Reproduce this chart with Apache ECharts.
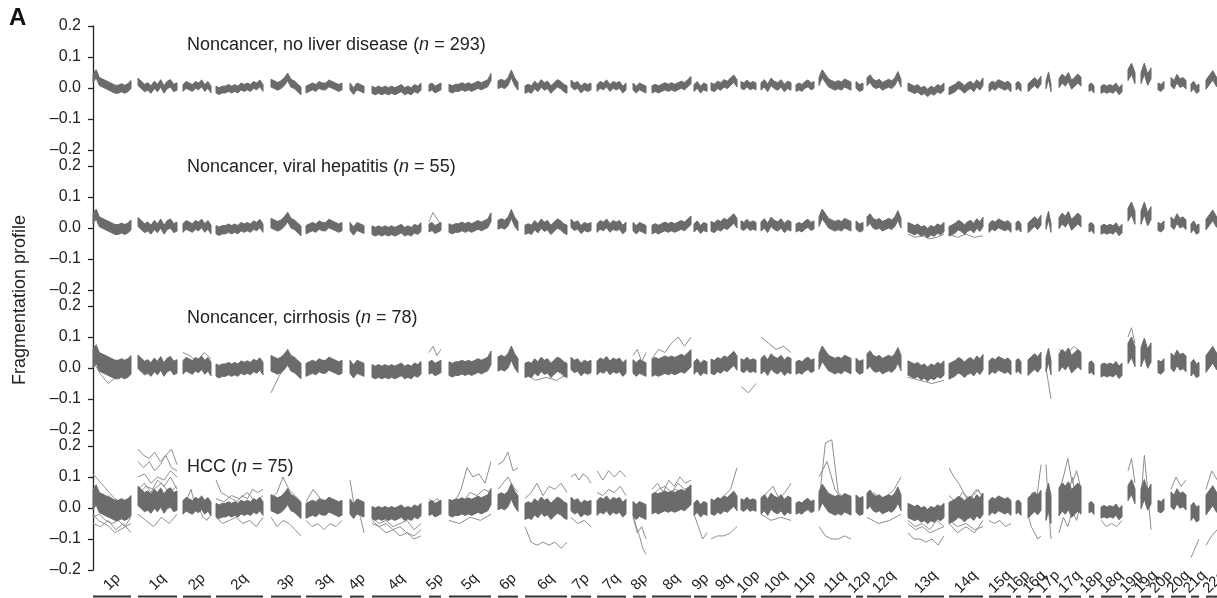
<!DOCTYPE html>
<html>
<head>
<meta charset="utf-8">
<script src="https://cdn.jsdelivr.net/npm/echarts@6/dist/echarts.min.js"></script>
<style>
  html, body { margin: 0; padding: 0; background: #fff; }
  #chart { width: 1217px; height: 598px; }
</style>
</head>
<body>
<div id="chart"></div>
<script>
// Chromosome arms along the genome track (track units, left to right)
const arms = ['1p','1q','2p','2q','3p','3q','4p','4q','5p','5q','6p','6q','7p','7q','8p','8q','9p','9q','10p','10q',
  '11p','11q','12p','12q','13q','14q','15q','16p','16q','17p','17q','18p','18q','19p','19q','20p','20q','21q','22q'];
const armStart = [0,45,90,123,178,213,257,279,336,356,405,432,478,504,540,559,601,618,648,668,
  703,726,763,774,815,856,896,923,935,953,966,996,1008,1035,1048,1065,1078,1098,1113];
const armEnd = [38,84,118,170,208,249,271,328,348,398,425,474,498,533,553,598,614,644,663,698,
  721,758,770,808,851,890,918,928,948,958,988,1001,1029,1042,1058,1071,1093,1106,1130];

// Typical fragmentation profile along each arm (evenly spaced bins)
const medianProfile = [
  [0.03,0.045,0.02,0.015,0.01,0.005,0.0,-0.005,-0.005,0.0,-0.005,0.0,0.01],
  [0.02,0.01,0.0,0.005,-0.005,0.01,0.0,0.015,-0.005,0.01,0.015,0.0,0.005],
  [0.0,0.01,0.005,0.0,0.01,0.005,0.015,0.0,0.01,-0.005],
  [-0.005,-0.01,-0.005,-0.005,0.0,-0.005,0.0,-0.005,0.005,0.0,0.005,0.0,0.01,0.005,0.015,0.0],
  [0.015,0.01,0.005,0.01,0.02,0.035,0.015,0.01,0.0,-0.01],
  [-0.005,0.0,0.005,0.0,0.01,0.005,0.005,0.015,0.01,0.005,0.0,0.005],
  [0.005,-0.01,0.005,0.0,-0.005],
  [-0.005,-0.01,-0.005,-0.01,-0.005,-0.01,-0.005,-0.01,-0.005,0.0,-0.01,-0.005,-0.01,0.0,-0.005,0.005],
  [0.0,0.005,-0.005,0.0,0.005],
  [0.0,-0.005,0.0,0.0,0.005,0.0,0.005,0.0,0.005,0.01,0.005,0.01,0.015,0.035],
  [0.01,0.015,0.01,0.02,0.045,0.02,0.005],
  [-0.005,0.0,-0.005,0.01,0.0,0.015,0.005,0.01,-0.005,0.005,0.015,0.01,0.0,-0.005],
  [0.015,0.005,0.01,-0.005,0.005,0.0,0.005],
  [0.0,0.01,0.005,0.015,0.0,0.01,0.005,0.01,-0.005,0.005],
  [0.005,-0.005,0.005,0.0,-0.005],
  [-0.005,0.0,-0.005,0.0,0.005,0.0,0.005,0.0,0.005,0.01,0.005,0.015,0.025],
  [0.0,0.01,-0.005,0.005,0.0],
  [0.005,0.0,0.01,0.005,0.015,0.01,0.02,0.03,0.015],
  [0.01,0.005,0.015,0.005,0.01,0.005],
  [0.005,0.015,0.0,0.02,0.01,0.005,0.015,0.0,0.01,0.005],
  [0.0,0.005,0.0,0.01,0.015,0.005,0.01],
  [0.02,0.045,0.03,0.015,0.01,0.005,0.01,0.005,0.015,0.01,0.005],
  [0.01,0.0,0.005],
  [0.02,0.03,0.015,0.01,0.015,0.005,0.01,0.015,0.01,0.02,0.04,0.015],
  [0.005,0.0,-0.005,0.0,-0.01,-0.005,-0.015,-0.005,-0.01,0.0,-0.005,0.005],
  [-0.01,-0.005,0.0,0.01,0.005,-0.005,0.005,0.01,0.0,0.015,0.005,0.02],
  [0.0,0.01,0.005,0.015,0.01,0.005,0.01,0.0],
  [0.005,0.01,0.0],
  [0.0,0.01,0.02,0.01,0.025],
  [0.01,0.04,0.0],
  [0.015,0.03,0.02,0.035,0.01,0.02,0.03,0.02],
  [0.0,0.005,-0.005],
  [-0.005,0.0,-0.005,0.0,-0.005,0.005,-0.01,0.0],
  [0.04,0.06,0.03],
  [0.03,0.06,0.025,0.045],
  [0.005,0.0,0.01],
  [0.02,0.01,0.03,0.015,0.02,0.01],
  [0.0,0.01,-0.005,0.0],
  [0.01,0.025,0.04,0.02,0.01,0.02]
];

// Spread of the sample cloud around the profile, per arm: [below, above]
const bandNoLiver = [
  [-0.012,0.014],[-0.012,0.012],[-0.011,0.011],[-0.011,0.011],[-0.012,0.013],[-0.011,0.011],[-0.011,0.011],[-0.012,0.011],
  [-0.011,0.011],[-0.011,0.012],[-0.012,0.013],[-0.012,0.012],[-0.011,0.011],[-0.011,0.011],[-0.011,0.011],[-0.011,0.012],
  [-0.011,0.011],[-0.012,0.012],[-0.011,0.011],[-0.012,0.012],[-0.011,0.011],[-0.012,0.014],[-0.011,0.011],[-0.012,0.013],
  [-0.013,0.011],[-0.012,0.012],[-0.012,0.012],[-0.011,0.011],[-0.012,0.013],[-0.012,0.012],[-0.014,0.015],[-0.011,0.011],
  [-0.012,0.011],[-0.016,0.02],[-0.016,0.02],[-0.011,0.011],[-0.013,0.014],[-0.012,0.012],[-0.014,0.016]
];
const bandViral = [
  [-0.016,0.016],[-0.015,0.014],[-0.014,0.014],[-0.014,0.013],[-0.015,0.016],[-0.014,0.013],[-0.013,0.013],[-0.016,0.012],
  [-0.013,0.013],[-0.014,0.014],[-0.014,0.015],[-0.016,0.014],[-0.013,0.013],[-0.014,0.014],[-0.014,0.013],[-0.014,0.014],
  [-0.013,0.013],[-0.015,0.016],[-0.013,0.013],[-0.015,0.015],[-0.013,0.013],[-0.015,0.016],[-0.013,0.013],[-0.015,0.016],
  [-0.017,0.013],[-0.016,0.015],[-0.014,0.014],[-0.013,0.013],[-0.015,0.016],[-0.014,0.014],[-0.017,0.018],[-0.013,0.013],
  [-0.015,0.012],[-0.018,0.024],[-0.018,0.024],[-0.013,0.013],[-0.015,0.016],[-0.015,0.013],[-0.016,0.018]
];
const bandCirrhosis = [
  [-0.03,0.03],[-0.022,0.022],[-0.02,0.024],[-0.022,0.018],[-0.025,0.025],[-0.022,0.02],[-0.022,0.02],[-0.025,0.016],
  [-0.02,0.02],[-0.024,0.02],[-0.02,0.026],[-0.026,0.02],[-0.02,0.02],[-0.022,0.022],[-0.022,0.022],[-0.022,0.034],
  [-0.02,0.02],[-0.022,0.024],[-0.02,0.02],[-0.024,0.026],[-0.02,0.02],[-0.024,0.026],[-0.02,0.022],[-0.024,0.026],
  [-0.028,0.018],[-0.026,0.024],[-0.022,0.022],[-0.02,0.02],[-0.024,0.026],[-0.022,0.024],[-0.026,0.03],[-0.018,0.018],
  [-0.024,0.016],[-0.026,0.04],[-0.026,0.036],[-0.02,0.02],[-0.022,0.028],[-0.026,0.018],[-0.024,0.03]
];
const bandHCC = [
  [-0.035,0.03],[-0.012,0.05],[-0.02,0.024],[-0.024,0.02],[-0.024,0.028],[-0.028,0.02],[-0.024,0.024],[-0.03,0.01],
  [-0.024,0.02],[-0.024,0.028],[-0.016,0.034],[-0.032,0.02],[-0.024,0.02],[-0.024,0.024],[-0.032,0.016],[-0.014,0.05],
  [-0.024,0.016],[-0.024,0.024],[-0.016,0.02],[-0.024,0.028],[-0.02,0.016],[-0.028,0.032],[-0.024,0.032],[-0.024,0.028],
  [-0.036,0.01],[-0.04,0.028],[-0.024,0.024],[-0.024,0.016],[-0.032,0.032],[-0.05,0.04],[-0.04,0.05],[-0.016,0.016],
  [-0.028,0.008],[-0.016,0.032],[-0.032,0.032],[-0.016,0.02],[-0.016,0.032],[-0.04,0.008],[-0.032,0.032]
];

// Individual samples standing out from the cloud: [arm, values along the arm]
const viralOutliers = [
  ['5p', [0.02,0.05,0.03,0.01]],
  ['13q', [-0.02,-0.03,-0.025,-0.035,-0.03,-0.02]],
  ['14q', [-0.02,-0.03,-0.02,-0.03,-0.025]]
];
const cirrhosisOutliers = [
  ['1p', [0.02,-0.02,-0.05,-0.03,-0.01,-0.02]],
  ['2p', [0.05,0.04,0.02,0.05,0.03]],
  ['3p', [-0.08,-0.03,0.01,0.02,0.0]],
  ['5p', [0.05,0.07,0.04,0.06]],
  ['6q', [-0.02,-0.04,-0.03,-0.04,-0.02]],
  ['8p', [0.04,0.06,0.02,0.05]],
  ['8q', [0.03,0.06,0.05,0.08,0.1,0.07,0.1]],
  ['10p', [-0.06,-0.08,-0.05]],
  ['10q', [0.1,0.08,0.06,0.07,0.05]],
  ['13q', [-0.03,-0.04,-0.05,-0.04]],
  ['17p', [0.0,-0.05,-0.1]],
  ['17q', [0.06,0.04,0.07,0.05]],
  ['19p', [0.1,0.13,0.08]]
];
const hccOutliers = [
  ['1p', [0.11,0.09,0.07,0.05,0.03,0.02,0.0,0.01]],
  ['1p', [0.06,0.05,0.03,0.04,0.02,0.0,-0.01,0.0]],
  ['1p', [-0.02,-0.04,-0.05,-0.06,-0.08,-0.07,-0.06,-0.05]],
  ['1p', [-0.03,-0.02,-0.04,-0.05,-0.04,-0.06,-0.03]],
  ['1p', [-0.05,-0.06,-0.04,-0.07,-0.05,-0.08]],
  ['1q', [0.19,0.17,0.16,0.18,0.15,0.17,0.19,0.14]],
  ['1q', [0.15,0.13,0.15,0.12,0.14,0.17,0.13,0.12]],
  ['1q', [0.1,0.11,0.08,0.1,0.09,0.12,0.1]],
  ['1q', [0.06,0.08,0.05,0.09,0.07,0.1,0.06]],
  ['1q', [0.04,0.07,0.06,0.08,0.05,0.07]],
  ['1q', [-0.02,-0.04,-0.06,-0.03,-0.05,-0.02]],
  ['2p', [0.02,0.03,0.06,0.01,0.0,-0.03,-0.04,-0.02]],
  ['2q', [0.09,0.05,0.04,0.03,0.02,0.04,0.03,0.06,0.05,0.06]],
  ['2q', [0.03,0.02,0.04,0.03,0.05,0.02,0.04]],
  ['2q', [-0.03,-0.05,-0.04,-0.03,-0.05,-0.04,-0.06,-0.03]],
  ['3p', [0.03,0.05,0.1,0.06,0.04,0.02]],
  ['3p', [-0.03,-0.06,-0.04,-0.05,-0.07,-0.09]],
  ['3q', [0.02,0.06,0.03,0.02,0.01,0.02]],
  ['3q', [-0.04,-0.06,-0.05,-0.07,-0.05,-0.06,-0.04]],
  ['4p', [0.09,0.02,0.0,-0.03,-0.08]],
  ['4q', [-0.05,-0.06,-0.08,-0.07,-0.09,-0.08,-0.1,-0.09]],
  ['4q', [-0.04,-0.06,-0.05,-0.07,-0.06,-0.08,-0.09,-0.07]],
  ['4q', [-0.03,-0.05,-0.04,-0.06,-0.05,-0.04,-0.07,-0.05]],
  ['5p', [0.03,0.02,0.03,0.02]],
  ['5q', [0.0,0.02,0.06,0.13,0.1,0.11,0.08,0.15]],
  ['5q', [0.02,0.03,0.02,0.05,0.04,0.06,0.05]],
  ['5q', [-0.04,-0.05,-0.03,-0.04,-0.02]],
  ['6p', [0.14,0.15,0.18,0.12,0.13]],
  ['6p', [0.06,0.08,0.1,0.07,0.05]],
  ['6q', [-0.06,-0.11,-0.12,-0.11,-0.12,-0.11,-0.13,-0.11]],
  ['6q', [0.03,0.05,0.08,0.04,0.07,0.06,0.08,0.05]],
  ['7p', [0.1,0.11,0.09,0.11,0.1,0.08]],
  ['7p', [-0.03,-0.05,-0.04,-0.06]],
  ['7q', [0.12,0.09,0.12,0.1,0.12,0.1]],
  ['7q', [0.05,0.04,0.06,0.05,0.07,0.04]],
  ['8p', [-0.02,-0.06,-0.09,-0.13,-0.15]],
  ['8p', [-0.03,-0.08,-0.06,-0.1]],
  ['8q', [0.06,0.08,0.05,0.09,0.07,0.1,0.08,0.09]],
  ['8q', [0.04,0.06,0.07,0.05,0.08,0.06,0.07]],
  ['8q', [0.03,0.05,0.04,0.06,0.05,0.07]],
  ['9p', [-0.02,-0.06,-0.1,-0.08]],
  ['9q', [0.01,0.02,0.04,0.06,0.13]],
  ['9q', [-0.1,-0.09,-0.09,-0.08,-0.06]],
  ['10q', [0.02,0.05,0.07,0.03,0.05,0.08]],
  ['10q', [-0.02,-0.04,-0.03,-0.04]],
  ['11q', [0.02,0.21,0.22,0.05,0.03,0.04]],
  ['11q', [0.1,0.15,0.06,0.02,0.0]],
  ['11q', [-0.06,-0.09,-0.1,-0.1,-0.09,-0.1]],
  ['12q', [0.02,0.05,0.03,0.04,0.06,0.1]],
  ['12q', [-0.03,-0.05,-0.04,-0.02]],
  ['13q', [-0.08,-0.1,-0.1,-0.11,-0.1,-0.12,-0.09]],
  ['13q', [-0.05,-0.07,-0.06,-0.08,-0.07,-0.06]],
  ['13q', [-0.04,-0.06,-0.05,-0.07,-0.04,-0.06]],
  ['14q', [0.13,0.1,0.08,0.05,0.02,0.04,0.06,0.03]],
  ['14q', [0.04,0.02,0.05,0.03,0.06,0.04]],
  ['14q', [-0.05,-0.08,-0.06,-0.08,-0.04]],
  ['14q', [-0.04,-0.06,-0.05,-0.07,-0.06]],
  ['15q', [-0.04,-0.05,-0.04,-0.06,-0.05]],
  ['16q', [-0.02,-0.06,-0.08,-0.1,-0.09]],
  ['16q', [0.02,0.05,0.03,0.14]],
  ['17p', [0.14,0.0,-0.1]],
  ['17q', [0.05,0.1,0.16,0.08,0.12,0.06]],
  ['17q', [0.0,0.08,0.03,0.1,0.02,0.07]],
  ['17q', [-0.08,-0.03,-0.06,-0.01,-0.04,0.02]],
  ['18q', [-0.04,-0.06,-0.05,-0.06,-0.04]],
  ['19p', [0.12,0.16,0.08]],
  ['19q', [0.03,0.17,0.06,-0.07]],
  ['20q', [0.06,0.1,0.07,0.09]],
  ['21q', [-0.16,-0.14,-0.12,-0.1]],
  ['22q', [0.06,0.12,0.09,0.05]],
  ['22q', [-0.12,-0.09,-0.07,-0.1]]
];

const panels = [
  { title: 'Noncancer, no liver disease', n: 293, band: bandNoLiver, outliers: [] },
  { title: 'Noncancer, viral hepatitis', n: 55, band: bandViral, outliers: viralOutliers },
  { title: 'Noncancer, cirrhosis', n: 78, band: bandCirrhosis, outliers: cirrhosisOutliers },
  { title: 'HCC', n: 75, band: bandHCC, outliers: hccOutliers }
];
const yTicks = [-0.2, -0.1, 0, 0.1, 0.2];
const titleTops = [36, 158, 309, 458];

const BAND = '#6b6b6b';
const THIN = '#8e8e8e';
const FONT = '"Liberation Sans", Arial, sans-serif';

// layout: panels stacked, axes touching so the y axis line reads as one
const plotTop = 26, panelStep = 140, panelH = 124, pad = (panelStep - panelH) / 2;
const pxPerUnit = 0.4 / panelH;
const grids = [], xAxes = [], yAxes = [], series = [];

function armX(i, k, n) {
  return n === 1 ? (armStart[i] + armEnd[i]) / 2 : armStart[i] + (armEnd[i] - armStart[i]) * k / (n - 1);
}

panels.forEach(function (p, g) {
  const top = plotTop + g * panelStep - (g > 0 ? pad : 0);
  const h = panelH + (g > 0 ? pad : 0) + (g < 3 ? pad : 0);
  grids.push({ left: 93, right: 0, top: top, height: h });
  xAxes.push({ gridIndex: g, type: 'value', min: 0, max: 1124, show: false });
  yAxes.push({
    gridIndex: g, type: 'value',
    min: g === 3 ? -0.2 : -0.2 - pad * pxPerUnit,
    max: g === 0 ? 0.2 : 0.2 + pad * pxPerUnit,
    splitLine: { show: false },
    axisLine: { show: true, lineStyle: { color: '#222', width: 1.3 } },
    axisTick: { show: true, inside: false, length: 5, customValues: yTicks, lineStyle: { color: '#222', width: 1.3 } },
    axisLabel: {
      customValues: yTicks, margin: 12, color: '#222', fontSize: 16, fontFamily: FONT,
      formatter: function (v) {
        const r = Math.round(v * 10) / 10;
        return (r < 0 ? '\u2013' : '') + Math.abs(r).toFixed(1);
      }
    }
  });

  // dense cloud of samples drawn as one band per arm
  series.push({
    type: 'custom', xAxisIndex: g, yAxisIndex: g, silent: true, z: 3,
    data: arms.map(function (a, i) { return [(armStart[i] + armEnd[i]) / 2, 0, i]; }),
    encode: { x: 0, y: 1 },
    renderItem: function (params, api) {
      const i = api.value(2);
      const prof = medianProfile[i];
      const b = p.band[i];
      const n = prof.length;
      const upper = [], lower = [];
      for (let k = 0; k < n; k++) {
        const x = armX(i, k, n);
        upper.push(api.coord([x, prof[k] + b[1]]));
        lower.push(api.coord([x, prof[k] + b[0]]));
      }
      const pts = upper.concat(lower.reverse());
      return {
        type: 'polygon',
        shape: { points: pts },
        style: { fill: BAND, stroke: BAND, lineWidth: 1, lineJoin: 'round' }
      };
    }
  });

  // individual samples outside the cloud
  p.outliers.forEach(function (o) {
    const i = arms.indexOf(o[0]);
    const vals = o[1];
    series.push({
      type: 'line', xAxisIndex: g, yAxisIndex: g, silent: true, symbol: 'none', z: 2,
      lineStyle: { color: THIN, width: 1 },
      data: vals.map(function (v, k) { return [armX(i, k, vals.length), v]; })
    });
  });
});

// arm labels and underlines beneath the bottom panel
grids.push({ left: 93, right: 0, top: 570, height: 28 });
xAxes.push({ gridIndex: 4, type: 'value', min: 0, max: 1124, show: false });
yAxes.push({ gridIndex: 4, type: 'value', min: 0, max: 1, show: false });
series.push({
  type: 'custom', xAxisIndex: 4, yAxisIndex: 4, silent: true,
  data: arms.map(function (a, i) { return [(armStart[i] + armEnd[i]) / 2, 0.5, i]; }),
  encode: { x: 0, y: 1 },
  renderItem: function (params, api) {
    const i = api.value(2);
    const c = api.coord([(armStart[i] + armEnd[i]) / 2, 0.57]);
    const s = api.coord([armStart[i], 0.05]);
    const e = api.coord([armEnd[i], 0.05]);
    return {
      type: 'group',
      children: [
        { type: 'text', x: c[0], y: c[1], rotation: Math.PI / 4,
          style: { text: arms[i], align: 'center', verticalAlign: 'middle', fill: '#222', font: '15px ' + FONT } },
        { type: 'line', shape: { x1: s[0], y1: s[1], x2: e[0], y2: e[1] },
          style: { stroke: '#333', lineWidth: 2 } }
      ]
    };
  }
});

const titles = panels.map(function (p, g) {
  return {
    text: p.title + ' ({i|n} = ' + p.n + ')',
    left: 187, top: titleTops[g], padding: 0,
    textStyle: {
      fontSize: 18, fontWeight: 'normal', color: '#222', fontFamily: FONT,
      rich: { i: { fontStyle: 'italic', fontSize: 18, color: '#222', fontFamily: FONT } }
    }
  };
});

const chart = echarts.init(document.getElementById('chart'), null, { renderer: 'canvas' });
chart.setOption({
  animation: false,
  title: titles,
  grid: grids,
  xAxis: xAxes,
  yAxis: yAxes,
  series: series,
  graphic: [
    { type: 'text', left: 9, top: 6, style: { text: 'A', font: 'bold 24px ' + FONT, fill: '#111' } },
    { type: 'text', x: 20, y: 300, rotation: Math.PI / 2,
      style: { text: 'Fragmentation profile', align: 'center', verticalAlign: 'middle', font: '18px ' + FONT, fill: '#222' } }
  ]
});
</script>
</body>
</html>
